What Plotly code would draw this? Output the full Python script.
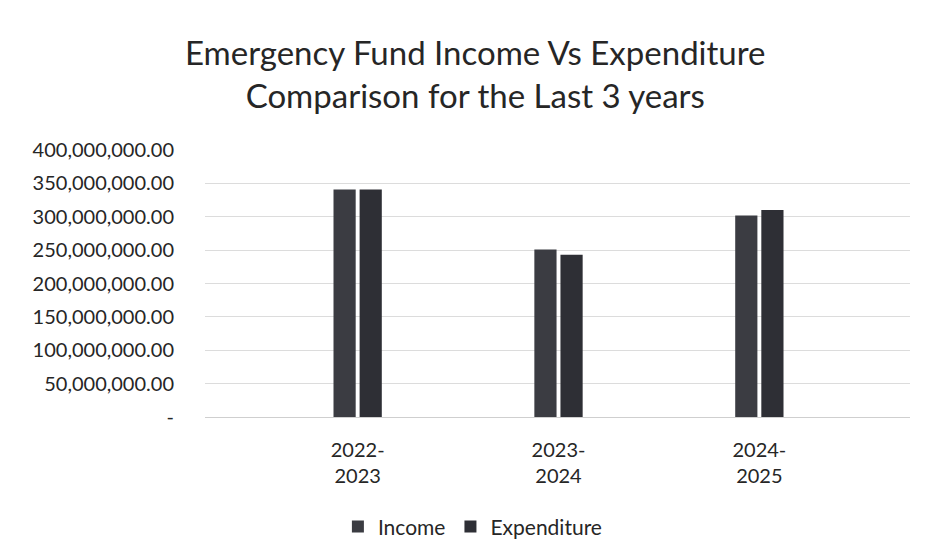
import plotly.graph_objects as go

categories = ["2022-<br>2023", "2023-<br>2024", "2024-<br>2025"]
income = [341_000_000, 251_000_000, 302_000_000]
expenditure = [341_000_000, 243_000_000, 310_000_000]
tick_values = [0, 50e6, 100e6, 150e6, 200e6, 250e6, 300e6, 350e6, 400e6]
tick_labels = ["-"] + [f"{v:,.2f}" for v in tick_values[1:]]
title_text = "Emergency Fund Income Vs Expenditure<br>Comparison for the Last 3 years"

font_family = "Lato, 'Open Sans', sans-serif"
ink = "#262626"

fig = go.Figure()
fig.add_trace(go.Bar(name="Income", x=list(range(len(categories))), y=income,
                     marker=dict(color="#3b3c42", line=dict(width=0))))
fig.add_trace(go.Bar(name="Expenditure", x=list(range(len(categories))), y=expenditure,
                     marker=dict(color="#2e2f35", line=dict(width=0))))

fig.add_annotation(text=title_text, xref="paper", yref="paper", x=0.383, y=1.45,
                   xanchor="center", yanchor="top", showarrow=False, align="center",
                   font=dict(size=33, color=ink, family=font_family))

fig.update_layout(
    width=931, height=548,
    paper_bgcolor="white", plot_bgcolor="white",
    barmode="group", bargap=0.74, bargroupgap=0.15,
    margin=dict(l=205, r=21, t=150, b=131, autoexpand=False),
    font=dict(family=font_family, color=ink),
    showlegend=True,
    legend=dict(orientation="h", x=0.38, xanchor="center", y=-0.335, yanchor="top",
                font=dict(size=21, color=ink), itemwidth=30, tracegroupgap=0),
    xaxis=dict(tickmode="array", tickvals=list(range(len(categories))), ticktext=categories,
               range=[-0.76, 2.75], showgrid=False, showline=False, zeroline=False,
               tickfont=dict(size=20, color=ink), ticks="", ticklabelstandoff=19),
    yaxis=dict(range=[0, 400e6], tickmode="array", tickvals=tick_values, ticktext=tick_labels,
               showgrid=True, gridcolor="#dcdcdc", gridwidth=1, zeroline=True,
               zerolinecolor="#cfcfcf", zerolinewidth=1, showline=False,
               tickfont=dict(size=20, color=ink), ticks="", ticklabelstandoff=30),
)

fig.write_html("out.html")
